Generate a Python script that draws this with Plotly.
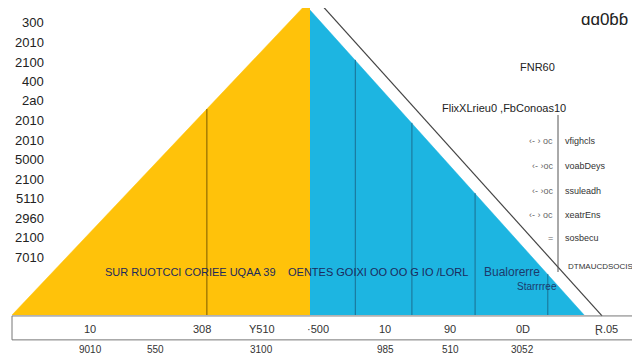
import plotly.graph_objects as go

# ---- data ----
rise_x = [0, 50]
rise_y = [0, 100]
fall_x = [50, 96]
fall_y = [96.8, 0]
outline_x = [51.2, 99.0]
outline_y = [100, -0.3]
stem_x = [32.7, 57.6, 67.1, 77.7, 89.9]
stem_y = [65.4, 81.0, 61.0, 38.7, 13.0]

left_labels = ["300", "2010", "2100", "400", "2a0", "2010", "2010",
               "5000", "2100", "5110", "2960", "2100", "7010"]
row1_vals = [13.1, 31.9, 41.9, 51.3, 62.6, 73.5, 85.7, 99.8]
row1_text = ["10", "308", "Y510", "·500", "10", "90", "0D", "Ɽ.05"]
row2_vals = [13.1, 24.0, 41.9, 62.6, 73.5, 85.7]
row2_text = ["9010", "550", "3100", "985", "510", "3052"]
legend_items = ["vfighcls", "voabDeys", "ssuleadh", "xeatrEns", "sosbecu", "DTMAUCDSOCIS"]
legend_marks = ["‹- › oc", "‹- ›oc", "‹- ›oc", "‹- › oc", "=", ""]
inner_texts = ["SUR RUOTCCI CORIEE UQAA 39", "OENTES GOIXI OO OO G IO /LORL", "Bualorerre", "Starrrree"]

YELLOW = "#FFC20A"
BLUE = "#1DB5E1"
FONT = "Liberation Sans"
OFF = 8                     # page body margin of the html page
W, H = 640 - OFF, 360 - OFF
XS, YS = 5.96, 3.15         # pixels per data unit

fig = go.Figure()
fig.add_trace(go.Scatter(x=rise_x, y=rise_y, mode="lines", fill="tozeroy",
                         fillcolor=YELLOW, line=dict(color=YELLOW, width=0.5)))
fig.add_trace(go.Scatter(x=fall_x, y=fall_y, mode="lines", fill="tozeroy",
                         fillcolor=BLUE, line=dict(color=BLUE, width=0.5)))
fig.add_trace(go.Scatter(x=outline_x, y=outline_y, mode="lines",
                         line=dict(color="#444444", width=1.2)))

# stems
for sx, sy in zip(stem_x, stem_y):
    col = "#7a5a00" if sx < rise_x[-1] else "#1b6f92"
    fig.add_trace(go.Scatter(x=[sx, sx], y=[0, sy], mode="lines",
                             line=dict(color=col, width=1)))

ann = []
def px(xp, yp):
    return (xp - OFF) / W, 1 - (yp - OFF) / H

# left labels
for i, t in enumerate(left_labels):
    x, y = px(46, 23 + i * 19.5)
    ann.append(dict(x=x, y=y, xref="paper", yref="paper", text=t, showarrow=False,
                    xanchor="right", yanchor="middle",
                    font=dict(family=FONT, size=13, color="#222222")))

# bottom rows
for v, t in zip(row1_vals, row1_text):
    ann.append(dict(x=v, y=-4.44, xref="x", yref="y", text=t, showarrow=False,
                    xanchor="center", yanchor="middle",
                    font=dict(family=FONT, size=11, color="#333333")))
for v, t in zip(row2_vals, row2_text):
    ann.append(dict(x=v, y=-11.1, xref="x", yref="y", text=t, showarrow=False,
                    xanchor="center", yanchor="middle",
                    font=dict(family=FONT, size=10, color="#333333")))

# top-right texts
for t, xp, yp, sz in [("ɑɑ0ɓɓ", 604, 19, 17), ("FNR60", 537, 67, 11),
                      ("FlixXLrieu0 ,FbConoas10", 504, 108, 11)]:
    x, y = px(xp, yp)
    ann.append(dict(x=x, y=y, xref="paper", yref="paper", text=t, showarrow=False,
                    xanchor="center", yanchor="middle",
                    font=dict(family=FONT, size=sz, color="#222222")))

# legend-like list
for i, (t, m) in enumerate(zip(legend_items, legend_marks)):
    yp = [141, 166, 191, 215, 238, 266][i]
    x, y = px(563 if i < 5 else 566, yp)
    ann.append(dict(x=x, y=y, xref="paper", yref="paper", text=t, showarrow=False,
                    xanchor="left", yanchor="middle",
                    font=dict(family=FONT, size=9 if i < 5 else 8, color="#333333")))
    if m:
        x, y = px(555, yp)
        ann.append(dict(x=x, y=y, xref="paper", yref="paper", text=m, showarrow=False,
                        xanchor="right", yanchor="middle",
                        font=dict(family=FONT, size=9, color="#666666")))

# inner texts
for t, (xp, yp, col, sz) in zip(inner_texts, [(190, 272, "#1c2a5c", 11), (378, 272, "#1c2a5c", 11),
                                              (512, 272, "#1c3a6c", 12), (537, 286, "#1c3a6c", 10)]):
    x, y = px(xp, yp)
    ann.append(dict(x=x, y=y, xref="paper", yref="paper", text=t, showarrow=False,
                    xanchor="center", yanchor="middle",
                    font=dict(family=FONT, size=sz, color=col)))

lx = px(558, 0)[0]
shapes = [
    dict(type="rect", xref="x", yref="y", x0=0, x1=110, y0=-0.3, y1=-7.9,
         line=dict(color="#777777", width=1)),
    dict(type="line", xref="paper", yref="paper", x0=lx, x1=lx,
         y0=px(0, 115)[1], y1=px(0, 272)[1], line=dict(color="#555555", width=1)),
]

fig.update_layout(
    width=W, height=H, margin=dict(l=0, r=0, t=0, b=0),
    paper_bgcolor="white", plot_bgcolor="white", showlegend=False,
    hovermode=False, annotations=ann, shapes=shapes,
    xaxis=dict(range=[(OFF - 12) / XS, (640 - 12) / XS], visible=False, fixedrange=True),
    yaxis=dict(range=[(315 - 360) / YS, (315 - OFF) / YS], visible=False, fixedrange=True),
)
fig.write_html("out.html")
